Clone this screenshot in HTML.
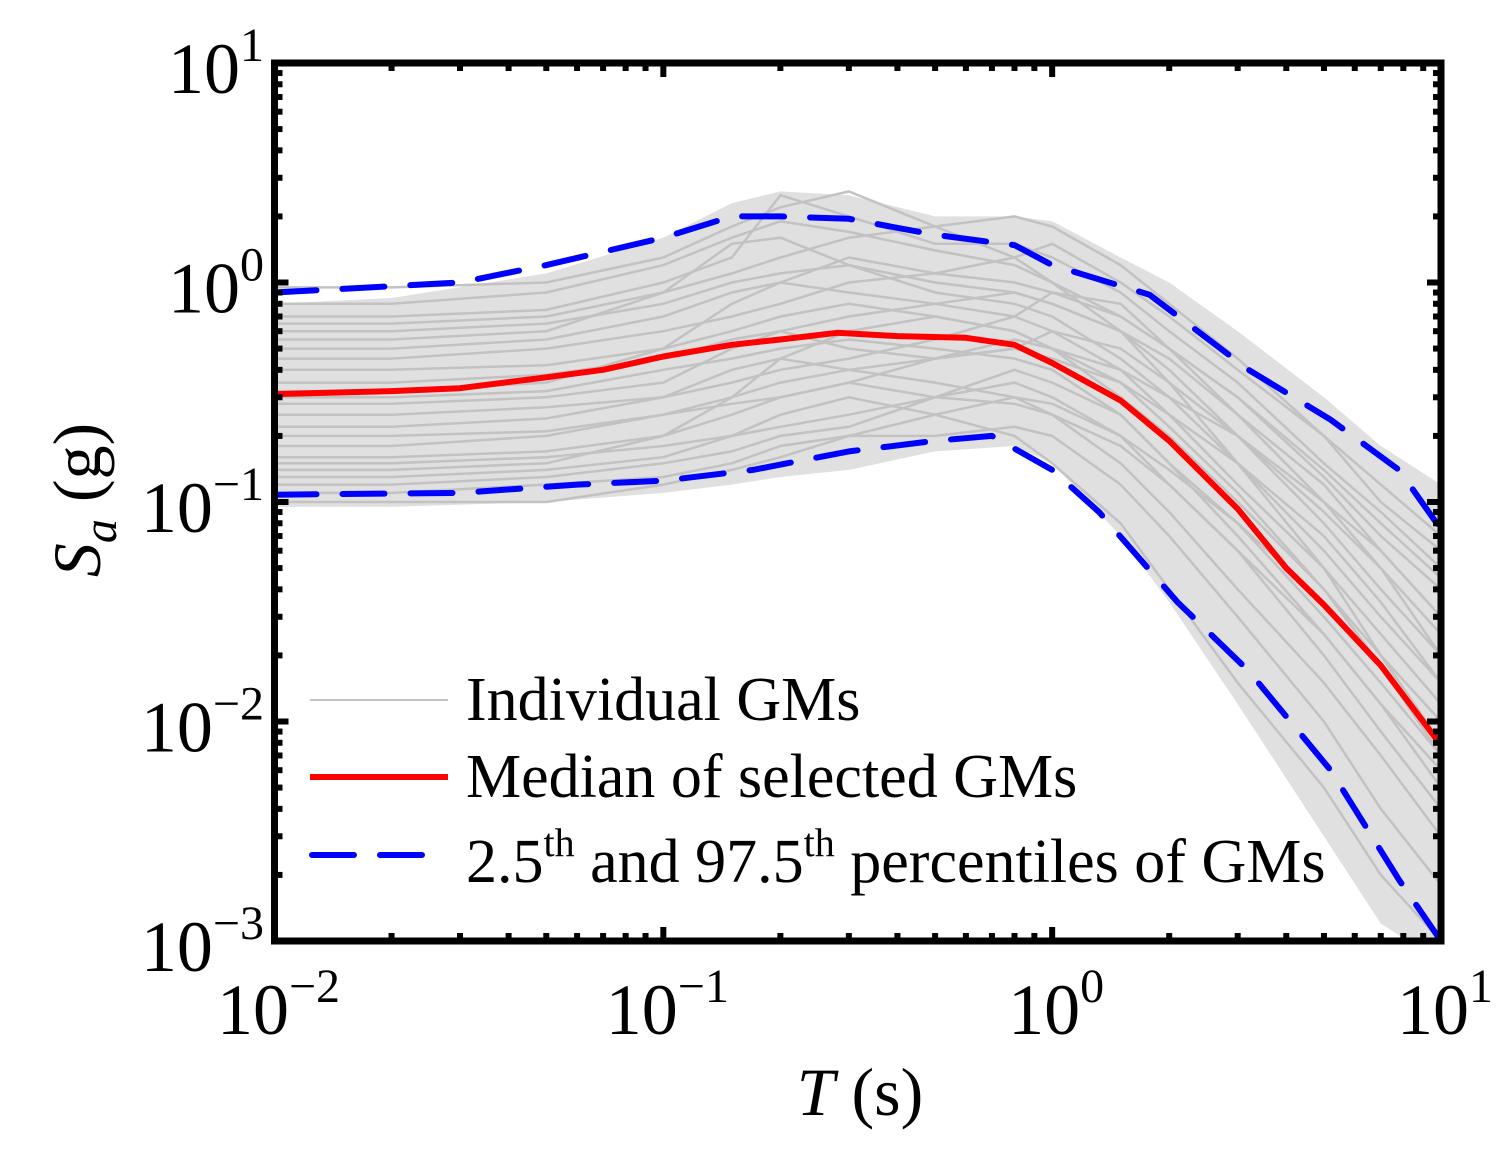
<!DOCTYPE html>
<html><head><meta charset="utf-8"><style>
html,body{margin:0;padding:0;background:#fff;}
svg{display:block;font-family:"Liberation Serif",serif;}
</style></head><body>
<svg id="chart" width="1511" height="1153" viewBox="0 0 1511 1153">
<defs><clipPath id="pc"><rect x="274.5" y="63" width="1166.5" height="878"/></clipPath></defs>
<g id="envelope" clip-path="url(#pc)"></g>
<g id="gms" clip-path="url(#pc)"></g>
<g id="pct" clip-path="url(#pc)"></g>
<g id="med" clip-path="url(#pc)"></g>
<g id="ticks"></g>
<rect x="274.5" y="63" width="1166.5" height="878" fill="none" stroke="#000" stroke-width="7"/>
<g id="labels" font-size="72"></g>
<text x="860" y="1115" font-size="68" text-anchor="middle"><tspan font-style="italic">T</tspan> (s)</text>
<text transform="translate(100,500) rotate(-90)" font-size="68" text-anchor="middle"><tspan font-style="italic">S</tspan><tspan font-style="italic" font-size="48" dy="16">a</tspan><tspan dy="-16"> (g)</tspan></text>
<g font-size="62">
 <g><line x1="310" y1="700" x2="448" y2="700" stroke="#c4c4c4" stroke-width="2"/><text x="466" y="720">Individual GMs</text></g>
 <g><line x1="310" y1="777" x2="448" y2="777" stroke="#f00" stroke-width="6"/><text x="466" y="797">Median of selected GMs</text></g>
 <g><line x1="312" y1="855" x2="448" y2="855" stroke="#0000ff" stroke-width="6" stroke-dasharray="42 26" stroke-linecap="round"/><text x="466" y="882">2.5<tspan font-size="40" dy="-26">th</tspan><tspan dy="26"> and 97.5</tspan><tspan font-size="40" dy="-26">th</tspan><tspan dy="26"> percentiles of GMs</tspan></text></g>
</g>
</svg>
<script>
const periods=[0.01,0.02,0.05,0.1,0.15,0.2,0.3,0.5,0.8,1,1.5,2,3,5,7,10];
const envUpper=[.8,.85,1.1,1.6,2.3,2.6,2.5,2.0,2.0,1.9,1.3,1.0,.6,.3,.18,.12];
const envLower=[.095,.095,.1,.11,.12,.13,.14,.17,.18,.15,.07,.035,.012,.003,.0012,.0008];
const gm01=[.8,.8,.9,1.2,1.6,1.9,1.7,1.4,1.2,1.0,.7,.5,.3,.13,.07,.04];
const gm02=[.7,.7,.75,1.0,1.3,2.5,2.0,1.5,1.5,1.3,.9,.6,.35,.15,.09,.05];
const gm03=[.6,.6,.65,.8,1.0,1.1,1.2,1.0,.9,.8,.6,.4,.2,.08,.04,.02];
const gm04=[.5,.5,.55,.7,.9,1.0,.9,.8,.7,.6,.4,.25,.12,.05,.025,.012];
const gm05=[.45,.45,.5,.6,.7,.8,1.0,1.1,1.3,1.5,1.0,.7,.4,.2,.12,.07];
const gm06=[.4,.4,.42,.5,.6,.7,.8,.7,.6,.5,.3,.2,.1,.04,.02,.01];
const gm07=[.35,.35,.38,.45,.55,.6,.7,.8,.9,.8,.6,.45,.25,.12,.06,.03];
const gm08=[.3,.3,.32,.4,.45,.5,.55,.5,.45,.4,.25,.15,.07,.025,.012,.006];
const gm09=[.28,.28,.3,.35,.5,.6,.5,.45,.5,.6,.5,.35,.2,.09,.05,.025];
const gm10=[.25,.25,.27,.3,.35,.4,.45,.55,.7,.9,.8,.5,.25,.1,.05,.02];
const gm11=[.22,.22,.24,.3,.4,.45,.4,.35,.3,.25,.15,.09,.04,.015,.007,.003];
const gm12=[.2,.2,.21,.25,.3,.35,.4,.45,.5,.45,.35,.25,.15,.07,.035,.015];
const gm13=[.18,.18,.2,.25,.28,.3,.35,.3,.28,.25,.18,.12,.06,.025,.012,.005];
const gm14=[.16,.16,.17,.2,.25,.3,.35,.45,.55,.5,.4,.3,.2,.1,.06,.03];
const gm15=[.15,.15,.16,.18,.2,.22,.25,.3,.35,.3,.2,.12,.06,.02,.009,.004];
const gm16=[.13,.13,.14,.16,.2,.25,.3,.25,.2,.15,.08,.04,.015,.005,.002,.001];
const gm17=[.12,.12,.13,.15,.17,.2,.22,.3,.4,.35,.25,.15,.08,.03,.015,.007];
const gm18=[.11,.11,.12,.13,.15,.18,.2,.2,.22,.2,.12,.07,.03,.01,.004,.0018];
const gm19=[.1,.1,.1,.12,.14,.16,.2,.25,.3,.28,.2,.14,.08,.035,.018,.008];
const gm20=[.95,.95,1.0,1.3,1.8,2.2,2.6,1.8,1.3,1.0,.6,.35,.15,.05,.02,.008];
const gm21=[.55,.55,.6,.9,1.5,1.6,1.2,.9,.8,.7,.45,.3,.15,.06,.03,.015];
const gm22=[.32,.32,.35,.5,.8,1.0,1.3,1.1,1.0,.9,.7,.5,.3,.14,.08,.045];
const gm23=[.65,.65,.7,.9,1.1,1.3,1.6,1.8,2.0,1.8,1.2,.8,.45,.2,.1,.06];
const gm24=[.14,.14,.15,.2,.3,.45,.6,.7,.6,.5,.35,.22,.11,.04,.018,.007];
const gmList=[gm01,gm02,gm03,gm04,gm05,gm06,gm07,gm08,gm09,gm10,gm11,gm12,gm13,gm14,gm15,gm16,gm17,gm18,gm19,gm20,gm21,gm22,gm23,gm24];
const medT=[0.01,0.02,0.03,0.05,0.07,0.1,0.15,0.2,0.28,0.4,0.6,0.8,1,1.5,2,3,4,5,7,10];
const medV=[0.31,0.32,0.33,0.37,0.40,0.46,0.52,0.55,0.59,0.57,0.56,0.52,0.43,0.29,0.19,0.093,0.05,0.034,0.018,0.0078];
const upT=[0.01,0.03,0.05,0.1,0.15,0.2,0.3,0.5,0.8,1,1.78,3.2,5.2,7.8,10];
const upV=[0.9,1.0,1.2,1.6,2.0,2.0,1.95,1.65,1.48,1.2,0.88,0.4,0.237,0.14,0.075];
const loT=[0.01,0.03,0.06,0.1,0.17,0.3,0.5,0.7,1,1.32,2.1,3.2,5.2,7.8,10];
const loV=[0.108,0.11,0.12,0.125,0.14,0.17,0.19,0.2,0.14,0.09,0.035,0.017,0.006,0.0019,0.001];
const xTickVals=[0.01,0.1,1,10], xTickExp=["−2","−1","0","1"];
const yTickVals=[10,1,0.1,0.01,0.001], yTickExp=["1","0","−1","−2","−3"];

const X0=274.5,X1=1441,Y0=63,Y1=941;
const sx=t=>X0+(Math.log10(t)+2)/3*(X1-X0);
const sy=v=>Y0+(1-Math.log10(v))/4*(Y1-Y0);
const NS="http://www.w3.org/2000/svg";
function mk(tag,parent,attrs){const e=document.createElementNS(NS,tag);for(const k in attrs)e.setAttribute(k,attrs[k]);parent.appendChild(e);return e;}
const pts=(T,V)=>T.map((t,i)=>sx(t).toFixed(1)+","+sy(V[i]).toFixed(1)).join(" ");

const env=document.getElementById('envelope');
let ep=pts(periods,envUpper)+" "+periods.slice().reverse().map((t,i)=>sx(t).toFixed(1)+","+sy(envLower[envLower.length-1-i]).toFixed(1)).join(" ");
const envP=mk('polygon',env,{points:ep,fill:"#e0e0e0"});



const g=document.getElementById('gms');
gmList.forEach((arr,i)=>{
 const l=mk('polyline',g,{points:pts(periods,arr),fill:"none",stroke:"#c2c2c2","stroke-width":2.5});
 
 
});
const p=document.getElementById('pct');
const up=mk('polyline',p,{points:pts(upT,upV),fill:"none",stroke:"#0000ff","stroke-width":6,"stroke-dasharray":"42 26","stroke-linecap":"round","stroke-linejoin":"round"});


const lo=mk('polyline',p,{points:pts(loT,loV),fill:"none",stroke:"#0000ff","stroke-width":6,"stroke-dasharray":"42 26","stroke-linecap":"round","stroke-linejoin":"round"});


const m=mk('polyline',document.getElementById('med'),{points:pts(medT,medV),fill:"none",stroke:"#f00","stroke-width":6,"stroke-linejoin":"round"});



const tk=document.getElementById('ticks');
for(let d=-2;d<1;d++)for(let k=1;k<10;k++){
 const x=sx(k*Math.pow(10,d)), L=k===1?14:8;
 mk('line',tk,{x1:x,y1:Y1,x2:x,y2:Y1-L,stroke:"#000","stroke-width":6});
 mk('line',tk,{x1:x,y1:Y0,x2:x,y2:Y0+L,stroke:"#000","stroke-width":6});
}
for(let d=-3;d<1;d++)for(let k=1;k<10;k++){
 const y=sy(k*Math.pow(10,d)), L=k===1?14:8;
 mk('line',tk,{x1:X0,y1:y,x2:X0+L,y2:y,stroke:"#000","stroke-width":6});
 mk('line',tk,{x1:X1,y1:y,x2:X1-L,y2:y,stroke:"#000","stroke-width":6});
}
const lb=document.getElementById('labels');
xTickVals.forEach((v,i)=>{
 const t=mk('text',lb,{x:sx(v)+4,y:1034,"text-anchor":"middle"});
 
 
 t.innerHTML='10<tspan font-size="48" dy="-32">'+xTickExp[i]+'</tspan>';
});
yTickVals.forEach((v,i)=>{
 const t=mk('text',lb,{x:264,y:sy(v)+30,"text-anchor":"end"});
 
 
 t.innerHTML='10<tspan font-size="48" dy="-32">'+yTickExp[i]+'</tspan>';
});
</script>
</body></html>
